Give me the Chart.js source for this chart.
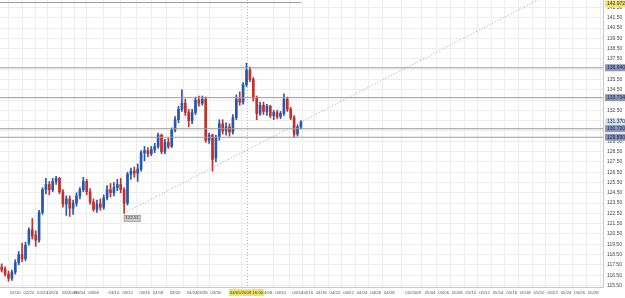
<!DOCTYPE html>
<html>
<head>
<meta charset="utf-8">
<script src="https://cdn.jsdelivr.net/npm/chart.js@4/dist/chart.umd.min.js"></script>
<style>
  html, body { margin: 0; padding: 0; background: #fff; }
  #wrap { width: 625px; height: 298px; position: relative; }
</style>
</head>
<body>
<div id="wrap"><canvas id="chart"></canvas></div>
<script>
// candles, one per half day
var opens  = [117.3,117.1,116.6,116.2,116.8,117.7,118.5,118.1,119.6,120.9,120.4,119.9,122.6,124.8,125.3,124.8,125.6,125.9,124.6,123.4,
              123.9,123.0,123.5,124.2,124.8,125.6,124.6,123.6,122.9,123.4,123.1,124.0,124.8,124.5,125.0,125.3,124.8,123.5,126.3,126.6,
              126.4,126.8,128.4,128.6,128.3,128.7,129.0,130.1,128.5,129.4,129.0,130.6,131.6,132.6,133.2,132.3,131.5,132.3,133.5,133.2,
              133.6,129.6,130.1,127.9,129.9,131.2,130.5,130.9,130.4,131.8,133.6,133.3,135.0,136.4,135.5,133.7,132.2,133.0,132.4,132.9,
              132.0,132.3,131.9,132.2,133.6,132.6,131.8,130.2,130.9];
var highs  = [117.6,117.3,116.9,117.0,118.0,118.8,119.6,119.7,121.1,122.0,120.8,122.8,125.0,125.9,125.6,125.9,126.1,126.0,124.8,124.2,
              124.2,123.8,124.5,125.0,126.0,125.8,124.9,123.9,123.8,123.9,124.3,125.2,125.4,125.5,125.8,125.9,125.0,126.5,126.9,127.0,
              127.3,128.6,129.0,128.9,129.0,129.3,130.3,130.2,129.7,129.8,130.8,131.9,132.9,134.5,133.6,132.6,132.6,133.8,133.9,133.9,
              133.8,130.3,130.2,130.1,131.6,131.6,131.3,131.2,132.1,134.0,134.3,135.2,137.1,136.7,135.7,133.9,133.3,133.3,133.1,133.0,
              132.5,132.5,132.4,134.1,133.8,132.8,132.0,131.1,131.5];
var lows   = [116.8,116.4,115.9,116.0,116.6,117.5,117.8,117.9,119.4,120.0,119.3,119.7,122.4,124.4,124.3,124.6,125.3,124.4,123.1,122.3,
              122.2,122.4,123.2,123.9,124.6,124.3,123.4,122.7,122.6,122.8,122.9,123.8,124.1,124.2,124.7,124.5,122.51,123.3,125.8,126.0,
              125.6,126.6,127.6,128.0,128.1,128.4,128.8,128.3,128.3,128.8,128.9,130.4,131.3,132.4,132.0,130.9,131.2,132.1,132.9,133.0,
              129.4,129.3,126.6,127.5,129.6,130.2,130.1,130.0,130.2,131.6,133.0,133.1,134.8,135.3,133.4,131.6,132.0,132.1,132.0,131.8,
              131.6,131.7,131.7,132.0,132.4,131.6,129.9,130.0,130.7];
var closes = [117.0,116.6,116.2,116.8,117.7,118.5,118.1,119.4,120.9,120.3,119.9,122.6,124.8,125.3,124.8,125.6,125.9,124.6,123.4,123.9,
              123.0,123.5,124.2,124.8,125.6,124.6,123.6,122.9,123.4,123.1,124.0,124.8,124.5,125.0,125.3,124.8,123.5,126.3,126.6,126.4,
              126.8,128.4,128.6,128.3,128.7,129.0,130.1,128.5,129.4,129.0,130.6,131.6,132.6,133.2,132.3,131.5,132.3,133.5,133.2,133.6,
              129.6,130.1,127.7,129.9,131.2,130.5,130.9,130.4,131.8,133.6,133.3,135.0,136.4,135.5,133.7,132.2,133.0,132.4,132.9,132.0,
              132.3,131.9,132.2,133.6,132.6,131.8,130.2,130.9,131.37];

var xTickBars   = [4,8,12,15,20,23,27,33,37,42,46,51,56,59,63,78,82,87,90,94,98,102,106,110,114,121,126,130,134,138,142,146,150,154,158,162,166,170,174];
var xTickLabels = ["02/10","02/20","02/24","02/26","03/2009","03/04","03/06","03/10","03/12","03/16","03/18","03/20","03/24","03/26","03/30",
                   "04/08","04/10","04/14","04/16","04/18","04/20","04/22","04/24","04/26","04/28","05/2009","05/04","05/06","05/08","05/10",
                   "05/12","05/14","05/16","05/18","05/20","05/22","05/24","05/26","05/28"];
var yTickValues = [142.5,141.5,140.5,139.5,138.5,137.5,136.5,135.5,134.5,133.5,132.5,131.5,130.5,129.5,128.5,127.5,126.5,125.5,
                   124.5,123.5,122.5,121.5,120.5,119.5,118.5,117.5,116.5,115.5];

var levelLines  = [136.640, 133.734, 130.720, 129.890];
var topLevel    = 142.972;
var lastPrice   = 131.370;
var trendBars   = [36, 160];
var trendValues = [122.51, 143.62];
var cursorBar   = 72;
var cursorLabel = "04/05/2009 16:00";
var lowBar      = 36;
var lowLabel    = "122.51";

var xMin = -0.5, xMax = 176.85;
var UP = "#2857ab", DOWN = "#c3302c";

var bars = opens.map(function (o, i) { return i; });
function candleColor(ctx) {
  var i = ctx.dataIndex;
  return closes[i] >= opens[i] ? UP : DOWN;
}

var lineSets = levelLines.map(function (v) {
  return {
    type: "line", data: [{ x: xMin, y: v }, { x: xMax, y: v }],
    borderColor: "#9c9c9c", borderWidth: 1, pointRadius: 0
  };
});

var overlay = {
  id: "overlay",
  beforeDatasetsDraw: function (chart) {
    var c = chart.ctx, xs = chart.scales.x, a = chart.chartArea;
    var px = Math.round(xs.getPixelForValue(cursorBar)) + 0.5;
    c.save();
    c.strokeStyle = "#b8b8b8";
    c.setLineDash([1, 2]);
    c.beginPath(); c.moveTo(px, a.top); c.lineTo(px, a.bottom); c.stroke();
    c.restore();
  },
  afterDraw: function (chart) {
    var c = chart.ctx, xs = chart.scales.x, ys = chart.scales.y, a = chart.chartArea;
    c.save();
    c.font = "5px 'Liberation Sans', Arial, sans-serif";
    c.textBaseline = "middle";
    var marks = [[topLevel, "#f2e36b"], [levelLines[0], "#8b96b9"], [levelLines[1], "#8b96b9"],
                 [lastPrice, "#cfe6f6"], [levelLines[2], "#8b96b9"], [levelLines[3], "#8b96b9"]];
    marks.forEach(function (m) {
      var y = ys.getPixelForValue(m[0]);
      if (y < 4) y = 4;
      c.fillStyle = m[1];
      c.fillRect(a.right + 2, y - 3.5, 20, 7);
      c.fillStyle = "#1c2340";
      c.fillText(m[0].toFixed(3), a.right + 4, y);
    });
    // cursor date on the time axis
    var cx = xs.getPixelForValue(cursorBar);
    c.font = "4.3px 'Liberation Sans', Arial, sans-serif";
    var w = c.measureText(cursorLabel).width;
    c.fillStyle = "#f2e36b";
    c.fillRect(cx - w / 2 - 1, a.bottom + 2, w + 2, 7);
    c.fillStyle = "#333";
    c.textAlign = "center";
    c.fillText(cursorLabel, cx, a.bottom + 5.5);
    // low price tag
    var lx = xs.getPixelForValue(lowBar), ly = ys.getPixelForValue(lows[lowBar]);
    var lw = c.measureText(lowLabel).width;
    c.fillStyle = "#cfcfcf";
    c.strokeStyle = "#777";
    c.lineWidth = 0.6;
    c.fillRect(lx, ly + 2, lw + 3, 6);
    c.strokeRect(lx, ly + 2, lw + 3, 6);
    c.fillStyle = "#222";
    c.textAlign = "left";
    c.fillText(lowLabel, lx + 1.5, ly + 5);
    c.restore();
  }
};

new Chart(document.getElementById("chart"), {
  type: "bar",
  data: {
    datasets: [
      {
        label: "wicks",
        data: bars.map(function (i) { return { x: i, y: [lows[i], highs[i]] }; }),
        backgroundColor: candleColor, barThickness: 1, grouped: false, order: 2
      },
      {
        label: "bodies",
        data: bars.map(function (i) { return { x: i, y: [opens[i], closes[i]] }; }),
        backgroundColor: candleColor, barThickness: 2, minBarLength: 1, grouped: false, order: 1
      },
      {
        type: "line", label: "top",
        data: [{ x: xMin, y: topLevel }, { x: bars.length - 1, y: topLevel }],
        borderColor: "#9c9c9c", borderWidth: 1, pointRadius: 0, order: 3
      },
      {
        type: "line", label: "trend",
        data: [{ x: trendBars[0], y: trendValues[0] }, { x: trendBars[1], y: trendValues[1] }],
        borderColor: "#a8a8a8", borderWidth: 1, borderDash: [1, 2], pointRadius: 0, order: 3
      }
    ].concat(lineSets)
  },
  options: {
    responsive: true,
    maintainAspectRatio: false,
    animation: false,
    layout: { padding: 0 },
    plugins: { legend: { display: false }, tooltip: { enabled: false } },
    scales: {
      x: {
        type: "linear", min: xMin, max: xMax, offset: false,
        grid: { color: "#ededed", drawTicks: false },
        border: { color: "#c8c8c8" },
        afterBuildTicks: function (axis) { axis.ticks = xTickBars.map(function (v) { return { value: v }; }); },
        afterFit: function (axis) { axis.height = 11; axis.paddingLeft = 0; axis.paddingRight = 0; },
        ticks: {
          autoSkip: false, maxRotation: 0, padding: 3, color: "#555",
          font: { size: 4.3, family: "'Liberation Sans', Arial, sans-serif" },
          callback: function (v, i) { return xTickLabels[i]; }
        }
      },
      y: {
        position: "right", min: 115.35, max: 143.22,
        grid: { color: "#ededed", drawTicks: false },
        border: { color: "#c8c8c8" },
        afterBuildTicks: function (axis) { axis.ticks = yTickValues.map(function (v) { return { value: v }; }); },
        afterFit: function (axis) { axis.width = 22; axis.paddingTop = 0; axis.paddingBottom = 0; },
        ticks: {
          padding: 4, color: "#444",
          font: { size: 5, family: "'Liberation Sans', Arial, sans-serif" },
          callback: function (v) { return v.toFixed(2); }
        }
      }
    }
  },
  plugins: [overlay]
});
</script>
</body>
</html>
